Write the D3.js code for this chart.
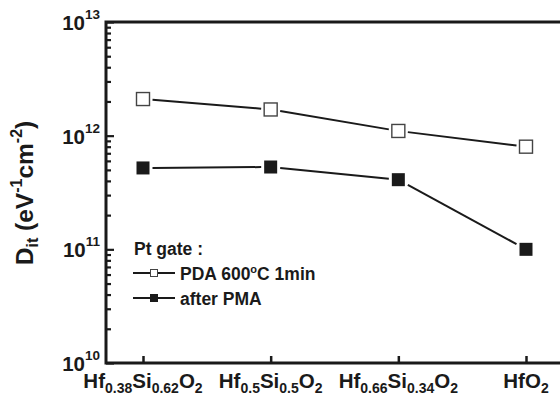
<!DOCTYPE html>
<html>
<head>
<meta charset="utf-8">
<script src="https://cdn.jsdelivr.net/npm/d3@7"></script>
<style>
  html, body { margin: 0; padding: 0; background: #fff; }
  svg { display: block; font-family: "Liberation Sans", Arial, Helvetica, sans-serif; font-weight: bold; }
</style>
</head>
<body>
<svg id="chart" width="560" height="402"></svg>
<script>
// Dielectric compositions along the x axis: [element, subscript] pairs
const categories = [
  [["Hf", "0.38"], ["Si", "0.62"], ["O", "2"]],
  [["Hf", "0.5"], ["Si", "0.5"], ["O", "2"]],
  [["Hf", "0.66"], ["Si", "0.34"], ["O", "2"]],
  [["Hf", ""], ["O", "2"]]
];
// Interface trap density Dit (eV^-1 cm^-2)
const pdaValues = [2.1e12, 1.7e12, 1.1e12, 8.0e11];   // PDA 600°C 1min
const pmaValues = [5.2e11, 5.3e11, 4.1e11, 1.0e11];   // after PMA
const yMajorTicks = [1e10, 1e11, 1e12, 1e13];

const svg = d3.select("#chart");
const plotLeft = 106, plotRight = 566, plotTop = 22, plotBottom = 363;

const x = d3.scaleLinear().domain([0, 3]).range([143, 526]);
const y = d3.scaleLog().domain([1e10, 1e13]).range([plotBottom, plotTop]);

// frame (right edge runs off the canvas)
svg.append("path")
  .attr("d", `M${plotRight},${plotTop}H${plotLeft}V${plotBottom}H${plotRight}`)
  .attr("fill", "none").attr("stroke", "#1a1a1a").attr("stroke-width", 3);

// minor log ticks, pointing inward
const minorTicks = [];
for (let e = 10; e < 13; e++) for (let m = 2; m <= 9; m++) minorTicks.push(m * Math.pow(10, e));

const yMinor = svg.append("g").attr("transform", `translate(${plotLeft},0)`)
  .call(d3.axisRight(y).tickValues(minorTicks).tickSize(5).tickFormat(""));
const yMajor = svg.append("g").attr("transform", `translate(${plotLeft},0)`)
  .call(d3.axisRight(y).tickValues(yMajorTicks).tickSize(8).tickFormat(""));
[yMinor, yMajor].forEach(g => {
  g.select(".domain").remove();
  g.selectAll("line").attr("stroke", "#1a1a1a").attr("stroke-width", 2.2);
});

const xAx = svg.append("g").attr("transform", `translate(0,${plotBottom})`)
  .call(d3.axisTop(x).tickValues([0, 1, 2, 3]).tickSize(7).tickFormat(""));
xAx.select(".domain").remove();
xAx.selectAll("line").attr("stroke", "#1a1a1a").attr("stroke-width", 2.5);

// y tick labels: 10^n
yMajorTicks.forEach(v => {
  const t = svg.append("text")
    .attr("x", 100).attr("y", y(v) + 8)
    .attr("text-anchor", "end").attr("fill", "#1a1a1a");
  t.append("tspan").attr("font-size", 20.5).text("10");
  t.append("tspan").attr("font-size", 13.5).attr("dy", -11).text(String(Math.round(Math.log10(v))));
});

// x tick labels with subscripts
categories.forEach((parts, i) => {
  const t = svg.append("text")
    .attr("x", x(i)).attr("y", 388)
    .attr("text-anchor", "middle").attr("fill", "#1a1a1a");
  let down = 0;
  parts.forEach(([el, sub]) => {
    t.append("tspan").attr("font-size", 20.5).attr("dy", -down).text(el);
    down = 0;
    if (sub) {
      t.append("tspan").attr("font-size", 14).attr("dy", 5).text(sub);
      down = 5;
    }
  });
});

// y axis title
const title = svg.append("text")
  .attr("transform", `translate(33,193) rotate(-90)`)
  .attr("text-anchor", "middle").attr("fill", "#1a1a1a");
title.append("tspan").attr("font-size", 24.5).text("D");
title.append("tspan").attr("font-size", 16).attr("dy", 5).text("it");
title.append("tspan").attr("font-size", 24.5).attr("dy", -5).text(" (eV");
title.append("tspan").attr("font-size", 16).attr("dy", -11).text("-1");
title.append("tspan").attr("font-size", 24.5).attr("dy", 11).text("cm");
title.append("tspan").attr("font-size", 16).attr("dy", -11).text("-2");
title.append("tspan").attr("font-size", 24.5).attr("dy", 11).text(")");

// series: line segments stop short of the markers
const msize = 13;
function drawSeries(values, filled) {
  const pts = values.map((v, i) => [x(i), y(v)]);
  for (let i = 0; i < pts.length - 1; i++) {
    const [x0, y0] = pts[i], [x1, y1] = pts[i + 1];
    const dx = x1 - x0, dy = y1 - y0, len = Math.hypot(dx, dy);
    const ux = dx / len, uy = dy / len;
    const g = (msize / 2 + 3) / Math.max(Math.abs(ux), Math.abs(uy));
    svg.append("line")
      .attr("x1", x0 + ux * g).attr("y1", y0 + uy * g)
      .attr("x2", x1 - ux * g).attr("y2", y1 - uy * g)
      .attr("stroke", "#1a1a1a").attr("stroke-width", 2);
  }
  svg.append("g").selectAll("rect").data(values).join("rect")
    .attr("x", (d, i) => x(i) - msize / 2)
    .attr("y", d => y(d) - msize / 2)
    .attr("width", msize).attr("height", msize)
    .attr("fill", filled ? "#1a1a1a" : "#fff")
    .attr("stroke", filled ? "#1a1a1a" : "#444")
    .attr("stroke-width", filled ? 0 : 1.4);
}
drawSeries(pdaValues, false);
drawSeries(pmaValues, true);

// legend
svg.append("text").attr("x", 134).attr("y", 255)
  .attr("font-size", 17.5).attr("fill", "#1a1a1a").text("Pt gate :");

const legendItems = [
  { filled: false, yy: 273, label: "PDA 600", deg: true },
  { filled: true, yy: 298, label: "after PMA", deg: false }
];
legendItems.forEach(it => {
  svg.append("line").attr("x1", 133).attr("x2", 175)
    .attr("y1", it.yy).attr("y2", it.yy)
    .attr("stroke", "#1a1a1a").attr("stroke-width", 2);
  svg.append("rect").attr("x", 150.5).attr("y", it.yy - 3.5)
    .attr("width", 7).attr("height", 7)
    .attr("fill", it.filled ? "#1a1a1a" : "#fff")
    .attr("stroke", it.filled ? "#1a1a1a" : "#444").attr("stroke-width", 1);
  const t = svg.append("text").attr("x", 180).attr("y", it.yy + 7)
    .attr("font-size", 17.5).attr("fill", "#1a1a1a");
  t.append("tspan").text(it.label);
  if (it.deg) {
    t.append("tspan").attr("font-size", 11).attr("dy", -7).text("o");
    t.append("tspan").attr("dy", 7).text("C 1min");
  }
});
</script>
</body>
</html>
